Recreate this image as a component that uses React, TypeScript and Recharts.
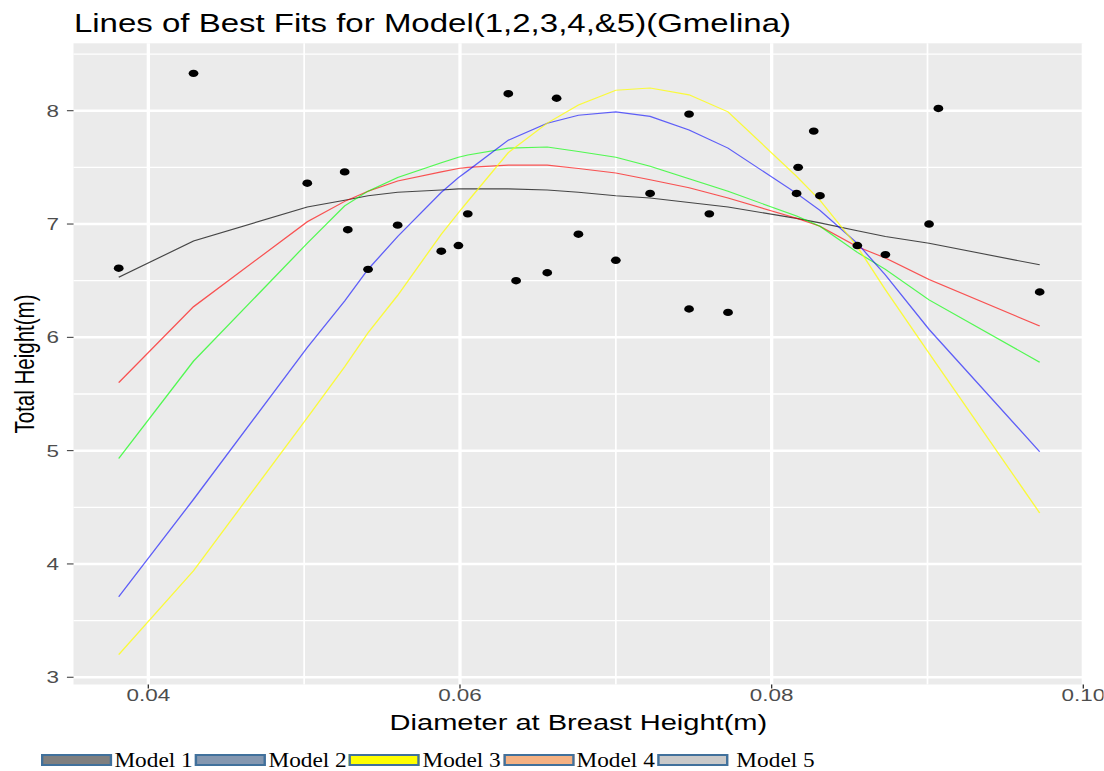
import React from 'react';
import {
  ComposedChart,
  XAxis,
  YAxis,
  CartesianGrid,
  Line,
  Scatter,
} from 'recharts';

// observed points: diameter at breast height (m) and total height (m)
const dbh = [
  0.0381, 0.0429, 0.0502, 0.0526, 0.0528, 0.0541, 0.056, 0.0588, 0.0599, 0.0605,
  0.0631, 0.0636, 0.0656, 0.0662, 0.0676, 0.07, 0.0722, 0.0747, 0.0747, 0.076,
  0.0772, 0.0816, 0.0817, 0.0827, 0.0831, 0.0855, 0.0873, 0.0901, 0.0907, 0.0972,
];
const height = [
  6.61, 8.33, 7.36, 7.46, 6.95, 6.6, 6.99, 6.76, 6.81, 7.09,
  8.15, 6.5, 6.57, 8.11, 6.91, 6.68, 7.27, 7.97, 6.25, 7.09,
  6.22, 7.27, 7.5, 7.82, 7.25, 6.81, 6.73, 7.0, 8.02, 6.4,
];

// fitted curves, read at the dbh values where they bend
const fitDbh = [
  0.0381, 0.0429, 0.0502, 0.0526, 0.0541, 0.056, 0.0588, 0.0599, 0.0605, 0.0631, 0.0656,
  0.0676, 0.07, 0.0722, 0.0747, 0.0772, 0.0816, 0.0831, 0.0855, 0.0873, 0.0901, 0.0972,
];
const fitBlack = [6.53, 6.85, 7.15, 7.21, 7.25, 7.28, 7.3, 7.31, 7.31, 7.31, 7.3, 7.28, 7.25, 7.23, 7.19, 7.15, 7.05, 7.01, 6.94, 6.89, 6.83, 6.64];
const fitRed = [5.6, 6.27, 7.02, 7.2, 7.29, 7.38, 7.46, 7.49, 7.5, 7.52, 7.52, 7.49, 7.45, 7.39, 7.32, 7.23, 7.05, 6.98, 6.8, 6.7, 6.51, 6.1];
const fitGreen = [4.93, 5.79, 6.83, 7.16, 7.29, 7.41, 7.54, 7.59, 7.61, 7.67, 7.68, 7.64, 7.59, 7.51, 7.4, 7.29, 7.07, 6.98, 6.75, 6.6, 6.33, 5.78];
const fitBlue = [3.71, 4.57, 5.91, 6.32, 6.6, 6.89, 7.28, 7.41, 7.47, 7.74, 7.89, 7.96, 7.99, 7.95, 7.83, 7.67, 7.27, 7.12, 6.83, 6.55, 6.07, 4.99];
const fitYellow = [3.2, 3.94, 5.29, 5.74, 6.04, 6.37, 6.91, 7.1, 7.2, 7.63, 7.89, 8.05, 8.18, 8.2, 8.14, 7.99, 7.42, 7.21, 6.8, 6.42, 5.86, 4.45];

const xTicks = [0.04, 0.06, 0.08, 0.1];
const xMinor = [0.05, 0.07, 0.09];
const yTicks = [3, 4, 5, 6, 7, 8];
const yMinor = [3.5, 4.5, 5.5, 6.5, 7.5, 8.5];

const legendItems = [
  { name: 'Model 1', fill: '#7f7f7f' },
  { name: 'Model 2', fill: '#8497b0' },
  { name: 'Model 3', fill: '#ffff00' },
  { name: 'Model 4', fill: '#f4b183' },
  { name: 'Model 5', fill: '#c9c9c9' },
];

const SANS = '"Liberation Sans", Arial, sans-serif';
const SERIF = '"Liberation Serif", "Times New Roman", serif';

// the original picture is stretched sideways, so draw narrower and stretch
const S = 1.32;
const W = 1104 / S;
const H = 740;
const PLOT_LEFT = 55.7;
const PLOT_RIGHT = 820.7;

const Dot = (props: any) => <circle cx={props.cx} cy={props.cy} r={3.7} fill="#000" />;

export default function App() {
  const fitRows = fitDbh.map((x, i) => ({
    x,
    black: fitBlack[i],
    red: fitRed[i],
    green: fitGreen[i],
    blue: fitBlue[i],
    yellow: fitYellow[i],
  }));
  const points = dbh.map((x, i) => ({ x, y: height[i] }));

  const tickStyle = { fontSize: 17, fill: '#4d4d4d', fontFamily: SANS };

  return (
    <div style={{ position: 'absolute', left: 0, top: 0, width: 1104, height: 771, background: '#fff', overflow: 'hidden' }}>
      <div
        style={{
          position: 'absolute',
          left: 0,
          top: 0,
          width: W,
          height: H,
          transform: `scaleX(${S})`,
          transformOrigin: '0 0',
          fontFamily: SANS,
        }}
      >
        <ComposedChart
          width={W}
          height={H}
          margin={{ top: 43.3, right: W - PLOT_RIGHT, bottom: 25.5, left: 0 }}
        >
          <CartesianGrid
            fill="#ebebeb"
            stroke="#ffffff"
            strokeWidth={1.3}
            horizontalValues={yMinor}
            verticalValues={xMinor}
          />
          <CartesianGrid
            stroke="#ffffff"
            strokeWidth={2.5}
            horizontalValues={yTicks}
            verticalValues={xTicks}
          />
          <XAxis
            type="number"
            dataKey="x"
            domain={[0.0352, 0.1]}
            allowDataOverflow
            ticks={xTicks}
            interval={0}
            tickFormatter={(v: number) => v.toFixed(2)}
            height={30}
            axisLine={false}
            tickSize={4}
            tickLine={{ stroke: '#333' }}
            tickMargin={0}
            tick={tickStyle}
          />
          <YAxis
            type="number"
            domain={[2.936, 8.595]}
            allowDataOverflow
            ticks={yTicks}
            interval={0}
            width={PLOT_LEFT}
            axisLine={false}
            tickSize={5}
            tickLine={{ stroke: '#333' }}
            tickMargin={6}
            tick={tickStyle}
          />
          <Line data={fitRows} dataKey="black" type="linear" stroke="#000000" strokeOpacity={0.7} strokeWidth={1.1} dot={false} isAnimationActive={false} />
          <Line data={fitRows} dataKey="red" type="linear" stroke="#ff0000" strokeOpacity={0.65} strokeWidth={1.1} dot={false} isAnimationActive={false} />
          <Line data={fitRows} dataKey="green" type="linear" stroke="#00ff00" strokeOpacity={0.65} strokeWidth={1.1} dot={false} isAnimationActive={false} />
          <Line data={fitRows} dataKey="blue" type="linear" stroke="#0000ff" strokeOpacity={0.6} strokeWidth={1.1} dot={false} isAnimationActive={false} />
          <Line data={fitRows} dataKey="yellow" type="linear" stroke="#ffff00" strokeOpacity={0.75} strokeWidth={1.1} dot={false} isAnimationActive={false} />
          <Scatter data={points} dataKey="y" shape={Dot} isAnimationActive={false} />
        </ComposedChart>

        {/* title */}
        <div style={{ position: 'absolute', left: 56, top: 11, fontSize: 25, lineHeight: '25px', color: '#000', whiteSpace: 'nowrap' }}>
          Lines of Best Fits for Model(1,2,3,4,&amp;5)(Gmelina)
        </div>

        {/* y axis title */}
        <div
          style={{
            position: 'absolute',
            left: 18.2,
            top: 363.9,
            transform: 'translate(-50%, -50%) rotate(-90deg)',
            fontSize: 20.5,
            lineHeight: '21px',
            color: '#000',
            whiteSpace: 'nowrap',
          }}
        >
          Total Height(m)
        </div>

        {/* x axis title */}
        <div
          style={{
            position: 'absolute',
            left: PLOT_LEFT,
            width: PLOT_RIGHT - PLOT_LEFT,
            top: 712,
            textAlign: 'center',
            fontSize: 22,
            lineHeight: '22px',
            color: '#000',
            whiteSpace: 'nowrap',
          }}
        >
          Diameter at Breast Height(m)
        </div>
      </div>

      {/* legend */}
      <div
        style={{
          position: 'absolute',
          left: 41,
          top: 748.5,
          display: 'flex',
          alignItems: 'center',
          transform: 'scaleX(1.165)',
          transformOrigin: '0 0',
          fontFamily: SERIF,
          fontSize: 20,
          color: '#000',
          whiteSpace: 'nowrap',
        }}
      >
        {legendItems.map((item, i) => (
          <div key={item.name} style={{ display: 'flex', alignItems: 'center', marginRight: 2 }}>
            <span
              style={{
                display: 'inline-block',
                width: 61,
                height: 12,
                boxSizing: 'border-box',
                border: '2px solid #41719c',
                background: item.fill,
                marginRight: i === legendItems.length - 1 ? 7 : 2,
              }}
            />
            <span>{item.name}</span>
          </div>
        ))}
      </div>
    </div>
  );
}
